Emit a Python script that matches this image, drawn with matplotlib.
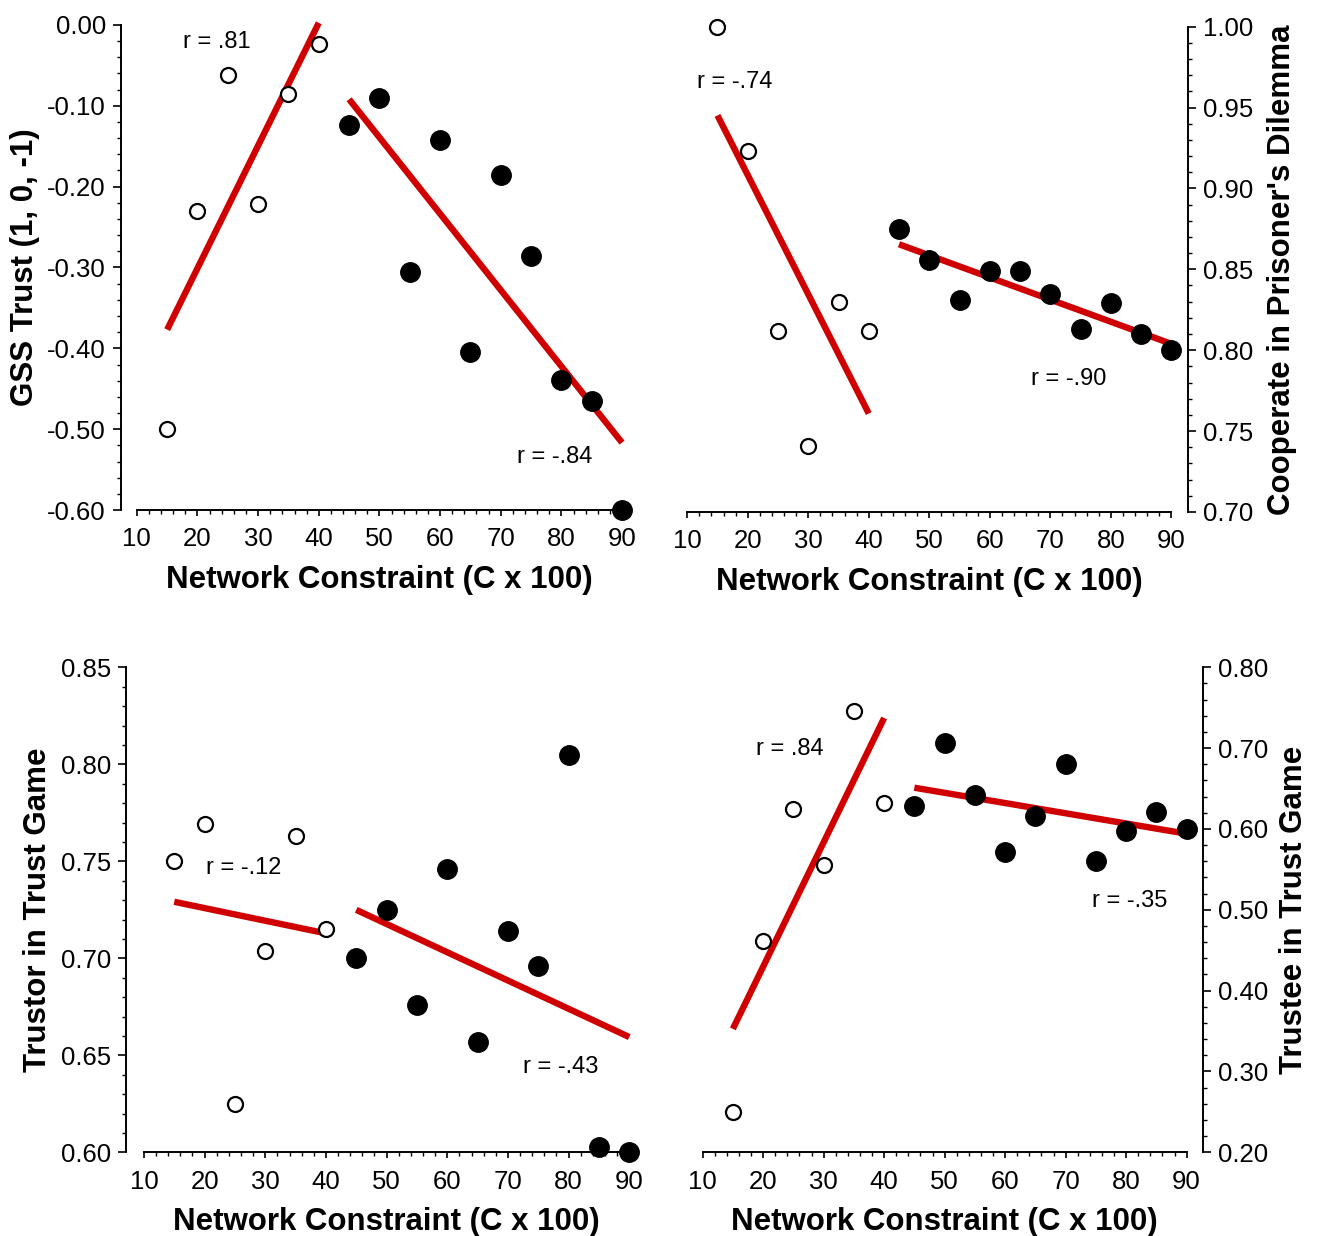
import matplotlib
matplotlib.use("Agg")
import matplotlib.pyplot as plt
from matplotlib.ticker import MultipleLocator, FormatStrFormatter
import numpy as np

plt.rcParams['font.family'] = ['Liberation Sans', 'DejaVu Sans']
plt.rcParams['axes.unicode_minus'] = False

# network constraint (C x 100)
x_open = [15, 20, 25, 30, 35, 40]
x_fill = [45, 50, 55, 60, 65, 70, 75, 80, 85, 90]

# GSS trust
gss_open = [-0.500, -0.230, -0.062, -0.222, -0.085, -0.024]
gss_fill = [-0.124, -0.091, -0.305, -0.143, -0.404, -0.186, -0.286, -0.439, -0.465, -0.600]

# cooperate in prisoner's dilemma
pd_open = [1.000, 0.923, 0.812, 0.741, 0.830, 0.812]
pd_fill = [0.875, 0.856, 0.831, 0.849, 0.849, 0.835, 0.813, 0.829, 0.810, 0.800]

# trustor in trust game
tor_open = [0.750, 0.769, 0.625, 0.704, 0.763, 0.715]
tor_fill = [0.700, 0.725, 0.676, 0.746, 0.657, 0.714, 0.696, 0.805, 0.603, 0.600]

# trustee in trust game
tee_open = [0.250, 0.462, 0.625, 0.555, 0.746, 0.632]
tee_fill = [0.629, 0.706, 0.642, 0.572, 0.616, 0.681, 0.561, 0.598, 0.621, 0.600]

RED = '#d00000'
PX = 0.72  # points per pixel at dpi 100

fig = plt.figure(figsize=(13.17, 12.36), dpi=100)


def panel(rect, y_open, y_fill, ylim, ymaj, ymin, ylabel, side, ylab_x, notes, offset):
    ax = fig.add_axes(rect)
    # regression line for each group
    for xs, ys in [(x_open, y_open), (x_fill, y_fill)]:
        b, a = np.polyfit(xs, ys, 1)
        xx = np.array([xs[0], xs[-1]])
        ax.plot(xx, a + b * xx, color=RED, lw=4.6, solid_capstyle='butt', zorder=2, clip_on=False)
    ax.plot(x_open, y_open, 'o', ms=10.8, mfc='white', mec='black', mew=1.6, zorder=3, clip_on=False)
    ax.plot(x_fill, y_fill, 'o', ms=14, mfc='black', mec='black', zorder=3, clip_on=False)

    ax.set_xlim(10, 90)
    ax.set_ylim(*ylim)
    ax.xaxis.set_major_locator(MultipleLocator(10))
    ax.xaxis.set_minor_locator(MultipleLocator(2))
    ax.yaxis.set_major_locator(MultipleLocator(ymaj))
    ax.yaxis.set_minor_locator(MultipleLocator(ymin))
    ax.yaxis.set_major_formatter(FormatStrFormatter('%.2f'))

    ax.spines['top'].set_visible(False)
    if side == 'left':
        ax.spines['right'].set_visible(False)
    else:
        ax.spines['left'].set_visible(False)
        ax.yaxis.tick_right()
        ax.yaxis.set_label_position('right')
    ax.spines[side].set_position(('outward', offset * PX))
    for s in ax.spines.values():
        s.set_linewidth(1.4)

    ax.tick_params(axis='x', which='major', direction='out', length=4.5, width=1.2, labelsize=18.5, pad=8)
    ax.tick_params(axis='x', which='minor', direction='out', length=3, width=1.0)
    ax.tick_params(axis='y', which='major', direction='out', length=5.8, width=1.2, labelsize=18.5, pad=5)
    ax.tick_params(axis='y', which='minor', direction='out', length=3, width=1.0)

    ax.set_xlabel('Network Constraint (C x 100)', fontsize=22.5, fontweight='bold')
    ax.xaxis.set_label_coords(0.5, -0.113)
    ax.set_ylabel(ylabel, fontsize=22.5, fontweight='bold')
    ax.yaxis.set_label_coords(ylab_x, 0.5)

    for tx, ty, s in notes:
        ax.text(tx, ty, s, fontsize=17, ha='left', va='center')
    return ax


panel([0.1039, 0.5873, 0.3684, 0.3926], gss_open, gss_fill, (-0.6, 0.0), 0.1, 0.02,
      'GSS Trust (1, 0, -1)', 'left', -0.1995,
      [(17.6, -0.021, 'r = .81'), (72.7, -0.534, 'r = -.84')], 16)

panel([0.5218, 0.5858, 0.3676, 0.3926], pd_open, pd_fill, (0.70, 1.00), 0.05, 0.01,
      "Cooperate in Prisoner's Dilemma", 'right', 1.197,
      [(11.6, 0.966, 'r = -.74'), (66.8, 0.782, 'r = -.90')], 17)

panel([0.1093, 0.0677, 0.3685, 0.3924], tor_open, tor_fill, (0.60, 0.85), 0.05, 0.01,
      'Trustor in Trust Game', 'left', -0.188,
      [(20.2, 0.7465, 'r = -.12'), (72.5, 0.644, 'r = -.43')], 18)

panel([0.5335, 0.0677, 0.3675, 0.3924], tee_open, tee_fill, (0.20, 0.80), 0.1, 0.02,
      'Trustee in Trust Game', 'right', 1.19,
      [(18.8, 0.699, 'r = .84'), (74.4, 0.511, 'r = -.35')], 16)

fig.savefig('out.png', dpi=100)
